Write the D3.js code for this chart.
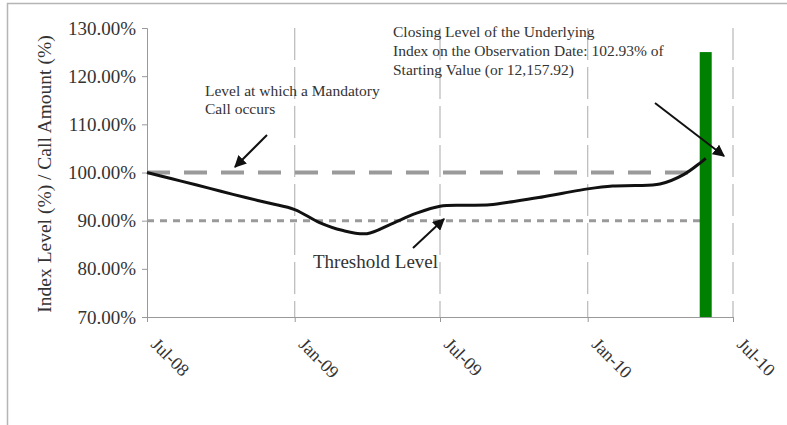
<!DOCTYPE html>
<html>
<head>
<meta charset="utf-8">
<script src="https://cdn.jsdelivr.net/npm/d3@7"></script>
<style>
  body { margin: 0; background: #fff; }
  text { font-family: "Liberation Serif", "DejaVu Serif", serif; fill: #333; }
</style>
</head>
<body>
<div class="chart"></div>
<script>
// data
var lineDates = ['2008-07-01', '2008-08-01', '2008-09-01', '2008-10-01', '2008-11-01', '2008-12-01',
  '2009-01-01', '2009-02-01', '2009-03-01', '2009-04-01', '2009-05-01', '2009-06-01',
  '2009-07-01', '2009-08-01', '2009-09-01', '2009-10-01', '2009-11-01', '2009-12-01',
  '2010-01-01', '2010-02-01', '2010-03-01', '2010-04-01', '2010-05-01', '2010-05-28'];
var indexLevel = [1.000, 0.987, 0.974, 0.961, 0.948, 0.936,
  0.923, 0.896, 0.880, 0.873, 0.893, 0.915,
  0.930, 0.932, 0.933, 0.940, 0.948, 0.957,
  0.966, 0.972, 0.973, 0.976, 0.996, 1.0293];
var callDate = '2010-05-28';
var callAmount = 1.25;
var mandatoryLevel = 1.00;
var thresholdLevel = 0.90;
var yTicks = [0.7, 0.8, 0.9, 1.0, 1.1, 1.2, 1.3];
var xTicks = ['2008-07-01', '2009-01-01', '2009-07-01', '2010-01-01', '2010-07-01'];

var W = 787, H = 425;
var margin = { top: 28, right: 54, bottom: 108, left: 147 };
var width = W - margin.left - margin.right;
var height = H - margin.top - margin.bottom;
var parse = d3.timeParse('%Y-%m-%d');

var svg = d3.select('.chart')
  .append('svg')
  .attr('width', W)
  .attr('height', H);

// outer frame
svg.append('rect')
  .attr('x', 7.5).attr('y', 3.5)
  .attr('width', 900).attr('height', 600)
  .style('fill', 'none')
  .style('stroke', '#b5b5b5')
  .style('stroke-width', 1.5);

var g = svg.append('g')
  .attr('transform', `translate(${margin.left}, ${margin.top})`);

var xScale = d3.scaleTime()
  .domain([parse(xTicks[0]), parse(xTicks[xTicks.length - 1])])
  .range([0, width]);
var yScale = d3.scaleLinear()
  .domain([0.7, 1.3])
  .range([height, 0]);

// vertical gridlines
g.selectAll('.vgrid')
  .data(xTicks.slice(1))
  .enter()
  .append('line')
  .attr('class', 'vgrid')
  .attr('x1', d => xScale(parse(d)))
  .attr('x2', d => xScale(parse(d)))
  .attr('y1', 0)
  .attr('y2', height)
  .style('stroke', '#b8b8b8')
  .style('stroke-width', 1.2)
  .style('stroke-dasharray', '32,7');

// y axis
var yAxis = d3.axisLeft(yScale)
  .tickValues(yTicks)
  .tickFormat(d3.format('.2%'))
  .tickSize(5)
  .tickPadding(6);
var yg = g.append('g').call(yAxis);
yg.select('.domain').style('stroke', '#999');
yg.selectAll('line').style('stroke', '#999');
yg.selectAll('text').style('font-size', '19px').style('fill', '#333')
  .style('font-family', '"Liberation Serif", serif');

// x axis
var xAxis = d3.axisBottom(xScale)
  .tickValues(xTicks.map(parse))
  .tickFormat(d3.timeFormat('%b-%y'))
  .tickSize(5);
var xg = g.append('g')
  .attr('transform', `translate(0, ${height})`)
  .call(xAxis);
xg.select('.domain').style('stroke', '#999');
xg.selectAll('line').style('stroke', '#999');
xg.selectAll('text')
  .style('font-size', '18px')
  .style('fill', '#333')
  .style('font-family', '"Liberation Serif", serif')
  .style('text-anchor', 'start')
  .attr('y', 0)
  .attr('dy', '0.35em')
  .attr('transform', 'translate(7, 24) rotate(45)');

// reference levels
var xEnd = xScale(parse(callDate));
g.append('line')
  .attr('x1', 0).attr('x2', xEnd)
  .attr('y1', yScale(mandatoryLevel)).attr('y2', yScale(mandatoryLevel))
  .style('stroke', '#9a9a9a')
  .style('stroke-width', 4)
  .style('stroke-dasharray', '23,14');
g.append('line')
  .attr('x1', 0).attr('x2', xEnd)
  .attr('y1', yScale(thresholdLevel)).attr('y2', yScale(thresholdLevel))
  .style('stroke', '#9a9a9a')
  .style('stroke-width', 3)
  .style('stroke-dasharray', '7,6');

// call amount bar
g.append('rect')
  .attr('x', xEnd - 6)
  .attr('y', yScale(callAmount))
  .attr('width', 12)
  .attr('height', height - yScale(callAmount))
  .style('fill', '#008000');

// index line
var data = lineDates.map((d, i) => ({ date: parse(d), value: indexLevel[i] }));
var line = d3.line()
  .x(d => xScale(d.date))
  .y(d => yScale(d.value))
  .curve(d3.curveCatmullRom.alpha(0.5));
g.append('path')
  .attr('d', line(data))
  .style('fill', 'none')
  .style('stroke', '#111')
  .style('stroke-width', 3);

// y title
svg.append('text')
  .attr('transform', 'translate(51, 174) rotate(-90)')
  .style('text-anchor', 'middle')
  .style('font-size', '19.5px')
  .text('Index Level (%) / Call Amount (%)');

// annotations
svg.append('defs').append('marker')
  .attr('id', 'arrow')
  .attr('viewBox', '0 0 10 10')
  .attr('refX', 9).attr('refY', 5)
  .attr('markerWidth', 6).attr('markerHeight', 6)
  .attr('markerUnits', 'strokeWidth')
  .attr('orient', 'auto')
  .append('path')
  .attr('d', 'M0,0 L10,5 L0,10 z')
  .style('fill', '#111');

function arrow(x1, y1, x2, y2) {
  svg.append('line')
    .attr('x1', x1).attr('y1', y1).attr('x2', x2).attr('y2', y2)
    .style('stroke', '#111')
    .style('stroke-width', 2)
    .attr('marker-end', 'url(#arrow)');
}

function label(lines, x, y, size, lh) {
  var t = svg.append('text')
    .attr('x', x).attr('y', y)
    .style('font-size', size + 'px');
  lines.forEach((s, i) => {
    t.append('tspan').attr('x', x).attr('y', y + i * lh).text(s);
  });
}

label(['Level at which a Mandatory', 'Call occurs'], 205, 96, 15.5, 18);
arrow(267, 135, 235, 167);

label(['Closing Level of the Underlying', 'Index on the Observation Date: 102.93% of',
  'Starting Value (or 12,157.92)'], 393, 37, 15.5, 19);
arrow(655, 103, 724, 156);

label(['Threshold Level'], 313, 268, 19, 0);
arrow(413, 248, 444, 219);
</script>
</body>
</html>
